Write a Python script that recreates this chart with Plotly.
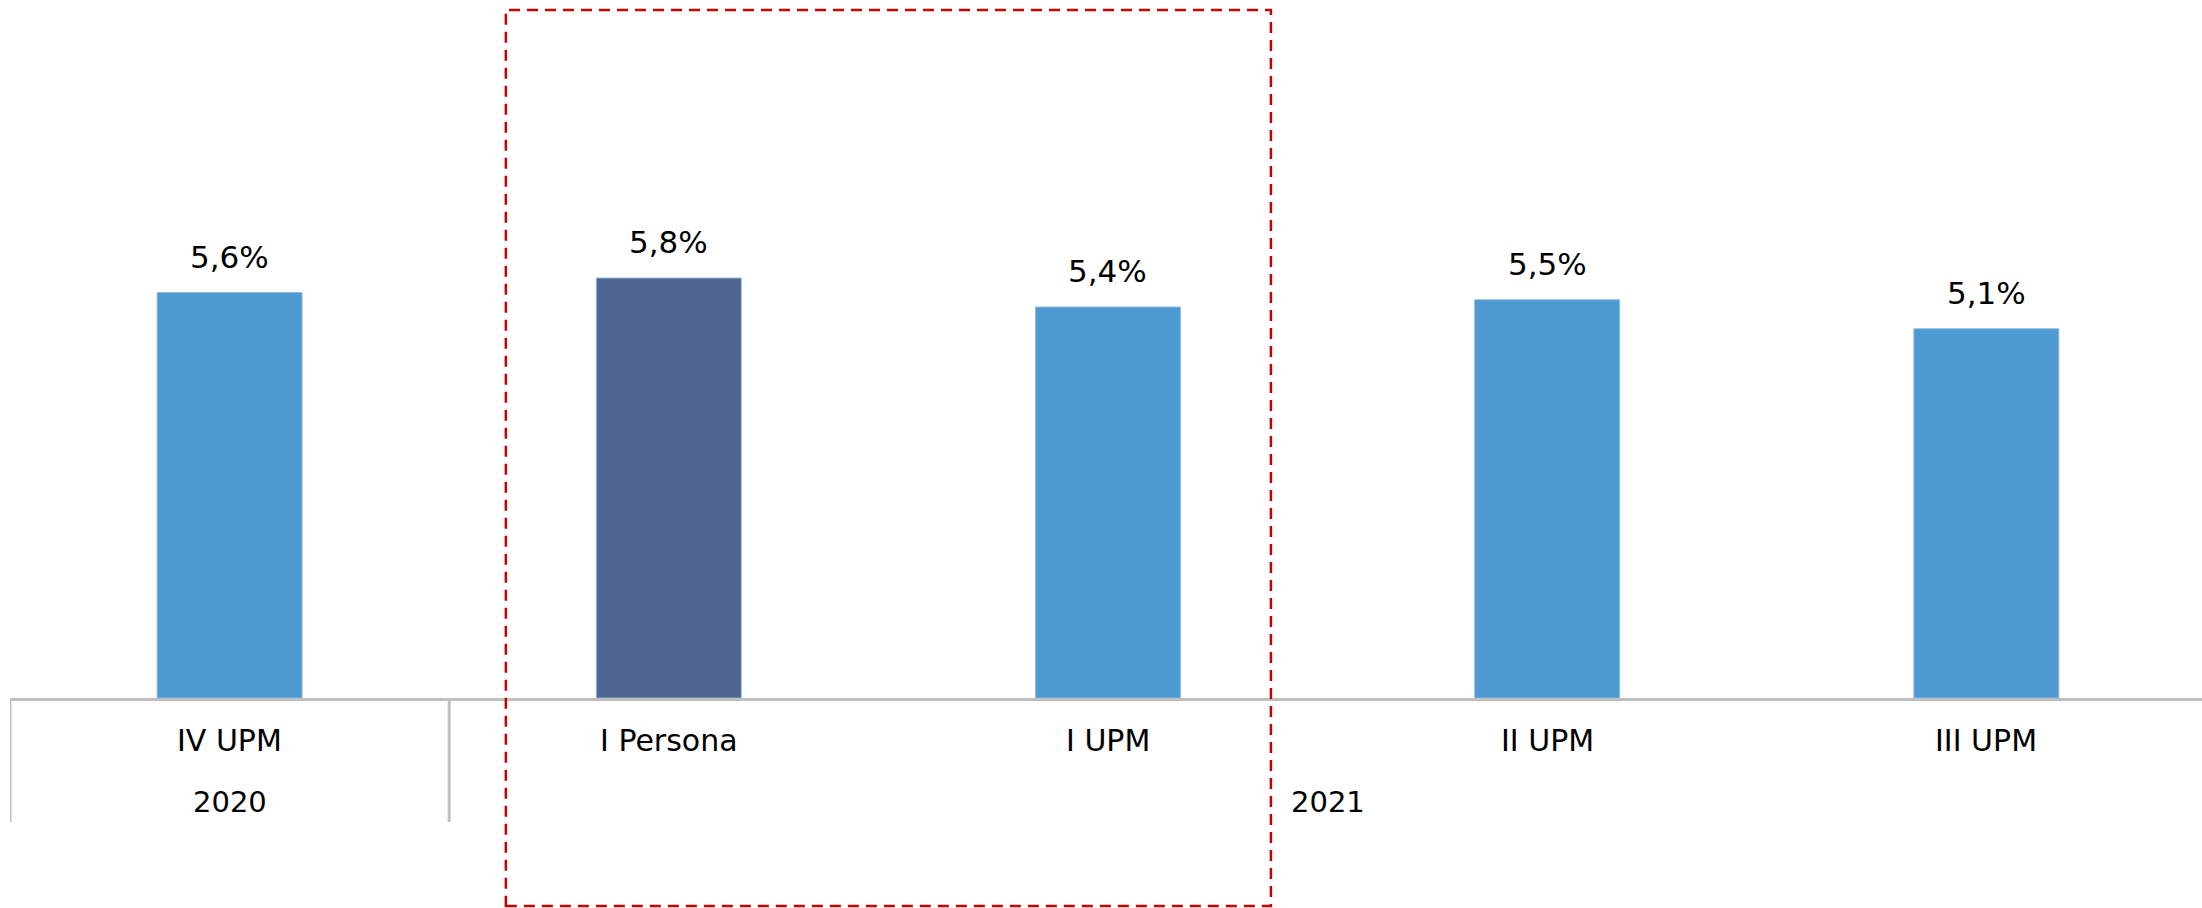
import plotly.graph_objects as go

# ---- data ----
categories = ["IV UPM", "I Persona", "I UPM", "II UPM", "III UPM"]
years = ["2020", "2021", "2021", "2021", "2021"]
values = [5.6, 5.8, 5.4, 5.5, 5.1]
highlight = "I Persona"
boxed = ["I Persona", "I UPM"]

LIGHT = "#4E9BD4"
DARK = "#4E668F"
GRID = "#BFBFBF"
FONT = "DejaVu Sans"

colors = [DARK if c == highlight else LIGHT for c in categories]
labels = [f"{v:.1f}".replace(".", ",") + "%" for v in values]
xi = list(range(len(categories)))

fig = go.Figure()
fig.add_trace(go.Bar(
    x=xi, y=values, width=0.33,
    marker=dict(color=colors, line=dict(color="rgba(140,185,225,0.9)", width=1)),
    hoverinfo="skip",
))

ann = []
# value labels
for i, (v, t) in enumerate(zip(values, labels)):
    ann.append(dict(x=i, y=v, xref="x", yref="y", text=t, showarrow=False,
                    yanchor="middle", yshift=36,
                    font=dict(family=FONT, size=31, color="#000000")))
# category labels
for i, c in enumerate(categories):
    ann.append(dict(x=i, y=0, xref="x", yref="paper", text=c, showarrow=False,
                    yanchor="middle", yshift=-42,
                    font=dict(family=FONT, size=30, color="#000000")))
# group labels
groups = []
for i, yv in enumerate(years):
    if groups and groups[-1][0] == yv:
        groups[-1][2] = i
    else:
        groups.append([yv, i, i])
for yv, a, b in groups:
    ann.append(dict(x=(a + b) / 2, y=0, xref="x", yref="paper", text=yv,
                    showarrow=False, yanchor="middle", yshift=-104,
                    font=dict(family=FONT, size=29, color="#000000")))

shapes = []
# group dividers
for yv, a, b in groups:
    for xb in ([a - 0.5] if a == 0 else []) + [b + 0.5]:
        shapes.append(dict(type="line", xref="x", yref="paper",
                           x0=xb, x1=xb, y0=0, y1=-124 / 698,
                           line=dict(color=GRID, width=3)))
# red dashed highlight box
bi = [categories.index(c) for c in boxed]
shapes.append(dict(type="rect", xref="x", yref="paper",
                   x0=min(bi) - 0.371, x1=max(bi) + 0.371,
                   y0=-208 / 698, y1=688 / 698,
                   line=dict(color="#C80000", width=2.5, dash="11px,7px"),
                   fillcolor="rgba(0,0,0,0)"))

fig.update_layout(
    width=2202, height=908,
    margin=dict(l=10, r=0, t=0, b=210),
    paper_bgcolor="white", plot_bgcolor="white",
    showlegend=False,
    annotations=ann, shapes=shapes,
    xaxis=dict(range=[-0.5, 4.491], showticklabels=False, showgrid=False,
               zeroline=False, showline=True, linecolor=GRID, linewidth=3,
               ticks=""),
    yaxis=dict(range=[0, 9.64], visible=False, showgrid=False, zeroline=False),
)

fig.write_html("out.html",
               config={"displayModeBar": False},
               post_script="document.body.style.margin='0';document.body.style.overflow='hidden';")
